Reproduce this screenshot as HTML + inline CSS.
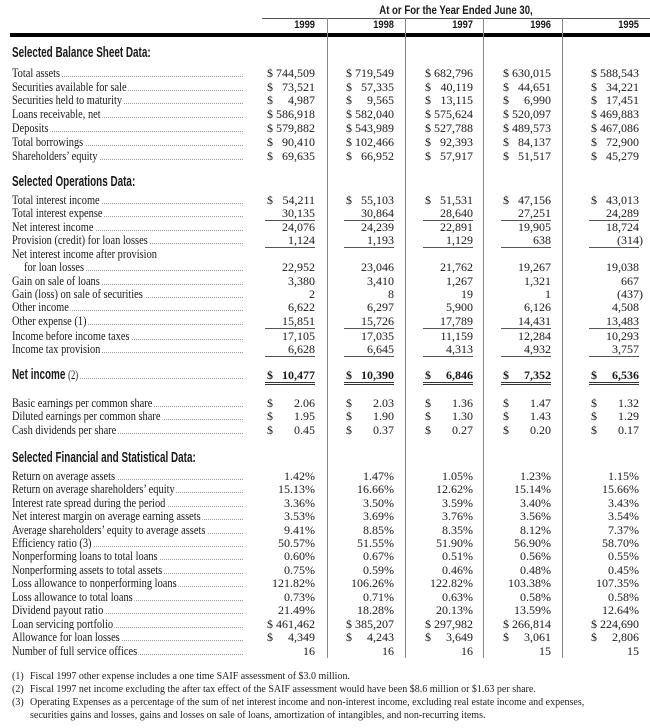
<!DOCTYPE html>
<html><head><meta charset="utf-8"><style>
*{margin:0;padding:0;box-sizing:border-box}
body{width:650px;height:728px;background:#fff;position:relative;overflow:hidden;font-family:"Liberation Serif",serif;color:#1a1a1a}
.a{position:absolute}
.r{position:absolute;left:0;width:650px;height:14px;line-height:14px;font-size:13px}
.d{position:absolute;left:14px;width:229px;top:10px;border-bottom:1px dotted #999}
.l{position:absolute;left:12px;top:0;background:#fff;padding-right:2px;white-space:nowrap;transform:scaleX(.8);transform-origin:left center}
.c{position:absolute;top:0;width:50px;text-align:right;font-size:12px;white-space:nowrap}
.c i{font-style:normal;position:absolute;left:2px}
.c1{left:265px}.c2{left:344px}.c3{left:423px}.c4{left:501px}.c5{left:589px}
.u .c{border-bottom:1px solid #555;height:15px}
.dd .c{border-bottom:3px double #333;height:17px;font-weight:bold}
.p{margin-right:-4px}
.h{position:absolute;left:12px;font-family:"Liberation Sans",sans-serif;font-weight:bold;font-size:15px;white-space:nowrap;transform:scaleX(.66);transform-origin:left center;line-height:18px}
.y{position:absolute;top:19px;width:52px;text-align:right;font-family:"Liberation Sans",sans-serif;font-weight:bold;font-size:11px;transform:scaleX(.85);transform-origin:right center}
.v{position:absolute;top:18px;width:1px;height:640px;background:#888}
.f{position:absolute;left:12px;font-size:10px;white-space:nowrap;line-height:12px;color:#222}
.f b{font-weight:normal;display:inline-block;width:18px}
</style></head><body>
<div class="a" style="left:262px;width:388px;top:3px;text-align:center;font-family:'Liberation Sans',sans-serif;font-weight:bold;font-size:12px;transform:scaleX(.8);">At or For the Year Ended June 30,</div>
<div class="a" style="left:262px;top:18px;width:388px;height:1px;background:#555"></div>
<div class="y" style="left:263px">1999</div><div class="y" style="left:342px">1998</div><div class="y" style="left:421px">1997</div><div class="y" style="left:499px">1996</div><div class="y" style="left:587px">1995</div>
<div class="a" style="left:10px;top:33px;width:640px;height:4px;background:#000"></div>
<div class="v" style="left:327px"></div><div class="v" style="left:405px"></div><div class="v" style="left:483px"></div><div class="v" style="left:562px"></div>

<div class="h" style="top:44px">Selected Balance Sheet Data:</div>
<div class="r" style="top:66px"><div class="d"></div><div class="l">Total assets</div><div class="c c1"><i>$</i>744,509</div><div class="c c2"><i>$</i>719,549</div><div class="c c3"><i>$</i>682,796</div><div class="c c4"><i>$</i>630,015</div><div class="c c5"><i>$</i>588,543</div></div>
<div class="r" style="top:80px"><div class="d"></div><div class="l">Securities available for sale</div><div class="c c1"><i>$</i>73,521</div><div class="c c2"><i>$</i>57,335</div><div class="c c3"><i>$</i>40,119</div><div class="c c4"><i>$</i>44,651</div><div class="c c5"><i>$</i>34,221</div></div>
<div class="r" style="top:93px"><div class="d"></div><div class="l">Securities held to maturity</div><div class="c c1"><i>$</i>4,987</div><div class="c c2"><i>$</i>9,565</div><div class="c c3"><i>$</i>13,115</div><div class="c c4"><i>$</i>6,990</div><div class="c c5"><i>$</i>17,451</div></div>
<div class="r" style="top:107px"><div class="d"></div><div class="l">Loans receivable, net</div><div class="c c1"><i>$</i>586,918</div><div class="c c2"><i>$</i>582,040</div><div class="c c3"><i>$</i>575,624</div><div class="c c4"><i>$</i>520,097</div><div class="c c5"><i>$</i>469,883</div></div>
<div class="r" style="top:121px"><div class="d"></div><div class="l">Deposits</div><div class="c c1"><i>$</i>579,882</div><div class="c c2"><i>$</i>543,989</div><div class="c c3"><i>$</i>527,788</div><div class="c c4"><i>$</i>489,573</div><div class="c c5"><i>$</i>467,086</div></div>
<div class="r" style="top:135px"><div class="d"></div><div class="l">Total borrowings</div><div class="c c1"><i>$</i>90,410</div><div class="c c2"><i>$</i>102,466</div><div class="c c3"><i>$</i>92,393</div><div class="c c4"><i>$</i>84,137</div><div class="c c5"><i>$</i>72,900</div></div>
<div class="r" style="top:149px"><div class="d"></div><div class="l">Shareholders’ equity</div><div class="c c1"><i>$</i>69,635</div><div class="c c2"><i>$</i>66,952</div><div class="c c3"><i>$</i>57,917</div><div class="c c4"><i>$</i>51,517</div><div class="c c5"><i>$</i>45,279</div></div>

<div class="h" style="top:173px">Selected Operations Data:</div>
<div class="r" style="top:193px"><div class="d"></div><div class="l">Total interest income</div><div class="c c1"><i>$</i>54,211</div><div class="c c2"><i>$</i>55,103</div><div class="c c3"><i>$</i>51,531</div><div class="c c4"><i>$</i>47,156</div><div class="c c5"><i>$</i>43,013</div></div>
<div class="r u" style="top:206px"><div class="d"></div><div class="l">Total interest expense</div><div class="c c1">30,135</div><div class="c c2">30,864</div><div class="c c3">28,640</div><div class="c c4">27,251</div><div class="c c5">24,289</div></div>
<div class="r" style="top:220px"><div class="d"></div><div class="l">Net interest income</div><div class="c c1">24,076</div><div class="c c2">24,239</div><div class="c c3">22,891</div><div class="c c4">19,905</div><div class="c c5">18,724</div></div>
<div class="r u" style="top:233px"><div class="d"></div><div class="l">Provision (credit) for loan losses</div><div class="c c1">1,124</div><div class="c c2">1,193</div><div class="c c3">1,129</div><div class="c c4">638</div><div class="c c5"><span class="p">(314)</span></div></div>
<div class="r" style="top:247px"><div class="l">Net interest income after provision</div></div>
<div class="r" style="top:260px"><div class="d" style="left:26px;width:217px"></div><div class="l" style="left:24px">for loan losses</div><div class="c c1">22,952</div><div class="c c2">23,046</div><div class="c c3">21,762</div><div class="c c4">19,267</div><div class="c c5">19,038</div></div>
<div class="r" style="top:274px"><div class="d"></div><div class="l">Gain on sale of loans</div><div class="c c1">3,380</div><div class="c c2">3,410</div><div class="c c3">1,267</div><div class="c c4">1,321</div><div class="c c5">667</div></div>
<div class="r" style="top:287px"><div class="d"></div><div class="l">Gain (loss) on sale of securities</div><div class="c c1">2</div><div class="c c2">8</div><div class="c c3">19</div><div class="c c4">1</div><div class="c c5"><span class="p">(437)</span></div></div>
<div class="r" style="top:300px"><div class="d"></div><div class="l">Other income</div><div class="c c1">6,622</div><div class="c c2">6,297</div><div class="c c3">5,900</div><div class="c c4">6,126</div><div class="c c5">4,508</div></div>
<div class="r u" style="top:314px"><div class="d"></div><div class="l">Other expense (1)</div><div class="c c1">15,851</div><div class="c c2">15,726</div><div class="c c3">17,789</div><div class="c c4">14,431</div><div class="c c5">13,483</div></div>
<div class="r" style="top:329px"><div class="d"></div><div class="l">Income before income taxes</div><div class="c c1">17,105</div><div class="c c2">17,035</div><div class="c c3">11,159</div><div class="c c4">12,284</div><div class="c c5">10,293</div></div>
<div class="r u" style="top:342px"><div class="d"></div><div class="l">Income tax provision</div><div class="c c1">6,628</div><div class="c c2">6,645</div><div class="c c3">4,313</div><div class="c c4">4,932</div><div class="c c5">3,757</div></div>

<div class="r dd" style="top:368px"><div class="d" style="left:80px;width:163px"></div><div class="h" style="top:-2px">Net income <span style="font-family:'Liberation Serif',serif;font-weight:normal;font-size:13px">(2)</span></div><div class="c c1"><i>$</i>10,477</div><div class="c c2"><i>$</i>10,390</div><div class="c c3"><i>$</i>6,846</div><div class="c c4"><i>$</i>7,352</div><div class="c c5"><i>$</i>6,536</div></div>

<div class="r" style="top:396px"><div class="d"></div><div class="l">Basic earnings per common share</div><div class="c c1"><i>$</i>2.06</div><div class="c c2"><i>$</i>2.03</div><div class="c c3"><i>$</i>1.36</div><div class="c c4"><i>$</i>1.47</div><div class="c c5"><i>$</i>1.32</div></div>
<div class="r" style="top:409px"><div class="d"></div><div class="l">Diluted earnings per common share</div><div class="c c1"><i>$</i>1.95</div><div class="c c2"><i>$</i>1.90</div><div class="c c3"><i>$</i>1.30</div><div class="c c4"><i>$</i>1.43</div><div class="c c5"><i>$</i>1.29</div></div>
<div class="r" style="top:423px"><div class="d"></div><div class="l">Cash dividends per share</div><div class="c c1"><i>$</i>0.45</div><div class="c c2"><i>$</i>0.37</div><div class="c c3"><i>$</i>0.27</div><div class="c c4"><i>$</i>0.20</div><div class="c c5"><i>$</i>0.17</div></div>

<div class="h" style="top:449px">Selected Financial and Statistical Data:</div>
<div class="r" style="top:469px"><div class="d"></div><div class="l">Return on average assets</div><div class="c c1">1.42%</div><div class="c c2">1.47%</div><div class="c c3">1.05%</div><div class="c c4">1.23%</div><div class="c c5">1.15%</div></div>
<div class="r" style="top:482px"><div class="d"></div><div class="l">Return on average shareholders’ equity</div><div class="c c1">15.13%</div><div class="c c2">16.66%</div><div class="c c3">12.62%</div><div class="c c4">15.14%</div><div class="c c5">15.66%</div></div>
<div class="r" style="top:496px"><div class="d"></div><div class="l">Interest rate spread during the period</div><div class="c c1">3.36%</div><div class="c c2">3.50%</div><div class="c c3">3.59%</div><div class="c c4">3.40%</div><div class="c c5">3.43%</div></div>
<div class="r" style="top:509px"><div class="d"></div><div class="l">Net interest margin on average earning assets</div><div class="c c1">3.53%</div><div class="c c2">3.69%</div><div class="c c3">3.76%</div><div class="c c4">3.56%</div><div class="c c5">3.54%</div></div>
<div class="r" style="top:523px"><div class="d"></div><div class="l">Average shareholders’ equity to average assets</div><div class="c c1">9.41%</div><div class="c c2">8.85%</div><div class="c c3">8.35%</div><div class="c c4">8.12%</div><div class="c c5">7.37%</div></div>
<div class="r" style="top:536px"><div class="d"></div><div class="l">Efficiency ratio (3)</div><div class="c c1">50.57%</div><div class="c c2">51.55%</div><div class="c c3">51.90%</div><div class="c c4">56.90%</div><div class="c c5">58.70%</div></div>
<div class="r" style="top:549px"><div class="d"></div><div class="l">Nonperforming loans to total loans</div><div class="c c1">0.60%</div><div class="c c2">0.67%</div><div class="c c3">0.51%</div><div class="c c4">0.56%</div><div class="c c5">0.55%</div></div>
<div class="r" style="top:563px"><div class="d"></div><div class="l">Nonperforming assets to total assets</div><div class="c c1">0.75%</div><div class="c c2">0.59%</div><div class="c c3">0.46%</div><div class="c c4">0.48%</div><div class="c c5">0.45%</div></div>
<div class="r" style="top:576px"><div class="d"></div><div class="l">Loss allowance to nonperforming loans</div><div class="c c1">121.82%</div><div class="c c2">106.26%</div><div class="c c3">122.82%</div><div class="c c4">103.38%</div><div class="c c5">107.35%</div></div>
<div class="r" style="top:590px"><div class="d"></div><div class="l">Loss allowance to total loans</div><div class="c c1">0.73%</div><div class="c c2">0.71%</div><div class="c c3">0.63%</div><div class="c c4">0.58%</div><div class="c c5">0.58%</div></div>
<div class="r" style="top:603px"><div class="d"></div><div class="l">Dividend payout ratio</div><div class="c c1">21.49%</div><div class="c c2">18.28%</div><div class="c c3">20.13%</div><div class="c c4">13.59%</div><div class="c c5">12.64%</div></div>
<div class="r" style="top:617px"><div class="d"></div><div class="l">Loan servicing portfolio</div><div class="c c1"><i>$</i>461,462</div><div class="c c2"><i>$</i>385,207</div><div class="c c3"><i>$</i>297,982</div><div class="c c4"><i>$</i>266,814</div><div class="c c5"><i>$</i>224,690</div></div>
<div class="r" style="top:630px"><div class="d"></div><div class="l">Allowance for loan losses</div><div class="c c1"><i>$</i>4,349</div><div class="c c2"><i>$</i>4,243</div><div class="c c3"><i>$</i>3,649</div><div class="c c4"><i>$</i>3,061</div><div class="c c5"><i>$</i>2,806</div></div>
<div class="r" style="top:644px"><div class="d"></div><div class="l">Number of full service offices</div><div class="c c1">16</div><div class="c c2">16</div><div class="c c3">16</div><div class="c c4">15</div><div class="c c5">15</div></div>

<div class="f" style="top:671px"><b>(1)</b>Fiscal 1997 other expense includes a one time SAIF assessment of $3.0 million.</div>
<div class="f" style="top:684px"><b>(2)</b>Fiscal 1997 net income excluding the after tax effect of the SAIF assessment would have been $8.6 million or $1.63 per share.</div>
<div class="f" style="top:697px"><b>(3)</b>Operating Expenses as a percentage of the sum of net interest income and non-interest income, excluding real estate income and expenses,</div>
<div class="f" style="top:710px"><b></b>securities gains and losses, gains and losses on sale of loans, amortization of intangibles, and non-recurring items.</div>
</body></html>
